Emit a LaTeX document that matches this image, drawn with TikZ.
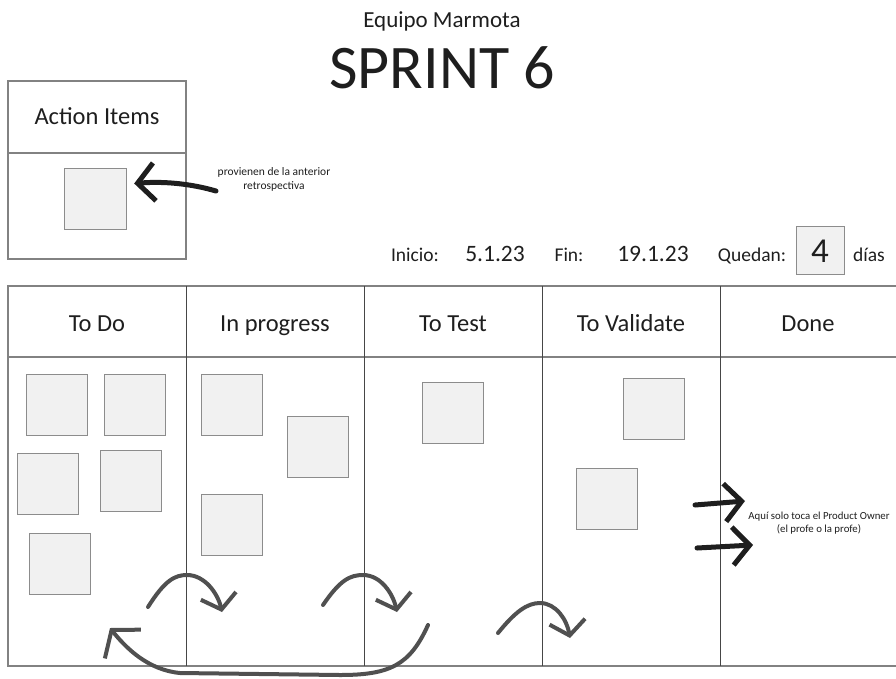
\documentclass[tikz,border=0pt]{standalone}
\usepackage{fontspec}
\setmainfont{Carlito}
\usepackage{tikz}
\usetikzlibrary{arrows.meta, positioning}
\definecolor{cardfill}{RGB}{241,241,241}
\definecolor{cardline}{RGB}{140,140,140}
\definecolor{frameline}{RGB}{130,130,130}
\definecolor{colline}{RGB}{70,70,70}
\definecolor{flowgray}{RGB}{80,80,80}
\definecolor{inkblack}{RGB}{30,30,30}

\begin{document}
\begin{tikzpicture}[
    x=1pt, y=-1pt,
    card/.style={draw=cardline, fill=cardfill, minimum width=61pt, minimum height=61pt, inner sep=0pt},
    colhead/.style={font=\fontsize{24.5}{29}\selectfont, anchor=base, inner sep=0pt, text=inkblack},
    daytext/.style={font=\fontsize{19.5}{23}\selectfont, anchor=base, inner sep=0pt, text=inkblack},
    daynum/.style={font=\fontsize{23.5}{27}\selectfont, anchor=base, inner sep=0pt, text=inkblack},
    note/.style={font=\fontsize{11.5}{14}\selectfont, align=center, inner sep=0pt, text=inkblack},
    flow/.style={draw=flowgray, line width=4pt, line cap=round, -{Straight Barb[length=14pt,width=36pt]}},
    pointer/.style={draw=inkblack, line width=5pt, line cap=round, -{Straight Barb[length=17pt,width=38pt]}}
]
    \useasboundingbox (0,0) rectangle (896,678);

    % Title
    \node[font=\fontsize{23}{27}\selectfont, anchor=base, inner sep=0pt, text=inkblack] (team) at (442,27.5) {Equipo Marmota};
    \node[font=\fontsize{62}{66}\selectfont, anchor=base, inner sep=0pt, text=inkblack] (sprint) at (442,88) {SPRINT 6};

    % Action items
    \draw[frameline, line width=1.2pt] (8,81) rectangle (186,259);
    \draw[frameline, line width=1.2pt] (8,153) -- (186,153);
    \node[colhead] (actions) at (97,124.5) {Action Items};
    \node[card, minimum width=62pt] (ai) at (95,198.5) {};
    \node[note] (prov) at (274,179) {provienen de la anterior\\retrospectiva};
    \coordinate (aitail) at (216,191);
    \draw[pointer] (aitail) .. controls (192,184) and (165,181) .. ([xshift=8pt,yshift=15pt]ai.east);

    % Dates
    \node[daytext] (inicio) at (415,261) {Inicio:};
    \node[daynum] (start) at (495,261) {5.1.23};
    \node[daytext] (fin) at (569,261) {Fin:};
    \node[daynum] (end) at (653,261) {19.1.23};
    \node[daytext] (quedan) at (752,261) {Quedan:};
    \node[card, minimum width=48pt, minimum height=48pt] (left) at (820,250.5) {};
    \node[font=\fontsize{35}{38}\selectfont, anchor=base, inner sep=0pt, text=inkblack] (count) at (left.center |- 0,262) {4};
    \node[daytext] (dias) at (869,261) {días};

    % Board
    \draw[frameline, line width=1.5pt] (896,286) -- (8,286) -- (8,666) -- (896,666);
    \draw[frameline, line width=1.5pt] (8,357) -- (896,357);
    \foreach \x in {186,364,542,720}
        \draw[colline, line width=1pt] (\x,286) -- (\x,666);

    % Column headers
    \node[colhead] (todo) at (97,331) {To Do};
    \node[colhead] (inprog) at (275,331) {In progress};
    \node[colhead] (totest) at (453,331) {To Test};
    \node[colhead] (toval) at (631,331) {To Validate};
    \node[colhead] (done) at (808,331) {Done};

    % Cards To Do
    \node[card] (t1) at (56.5,404.5) {};
    \node[card] (t2) at (135,404.5) {};
    \node[card] (t3) at (47.5,484) {};
    \node[card] (t4) at (131,480.5) {};
    \node[card] (t5) at (59.5,563.5) {};

    % Cards In progress
    \node[card] (p1) at (231.5,404.5) {};
    \node[card] (p2) at (318,446.5) {};
    \node[card] (p3) at (231.5,524.5) {};

    % Cards To Test / To Validate
    \node[card] (s1) at (452.5,412.5) {};
    \node[card] (v1) at (653.5,409) {};
    \node[card] (v2) at (606.5,498.5) {};

    % Product Owner note
    \node[note, font=\fontsize{10.8}{13.5}\selectfont] (po) at (819,523) {Aquí solo toca el Product Owner\\(el profe o la profe)};
    \coordinate (po1) at (695,505);
    \coordinate (po2) at (697,548);
    \draw[pointer] (po1) -- (745,501);
    \draw[pointer] (po2) -- (753,545);

    % Flow arrows
    \coordinate (a1) at (148,607);
    \coordinate (a2) at (323,605);
    \coordinate (a3) at (498,633);
    \coordinate (back) at (428,625);
    \draw[flow] (a1) .. controls (165,580) and (175,575) .. (187,575) .. controls (205,575) and (218,594) .. (222,612);
    \draw[flow] (a2) .. controls (340,580) and (350,575) .. (363,575) .. controls (381,575) and (393,594) .. (397,612);
    \draw[flow] (a3) .. controls (515,612) and (527,603) .. (540,603) .. controls (556,603) and (567,620) .. (570,638);
    \draw[flow, -{Straight Barb[length=18pt,width=46pt]}] (back) .. controls (410,665) and (390,675) .. (340,675) -- (180,673) .. controls (148,670) and (126,648) .. (110,628);
\end{tikzpicture}
\end{document}
